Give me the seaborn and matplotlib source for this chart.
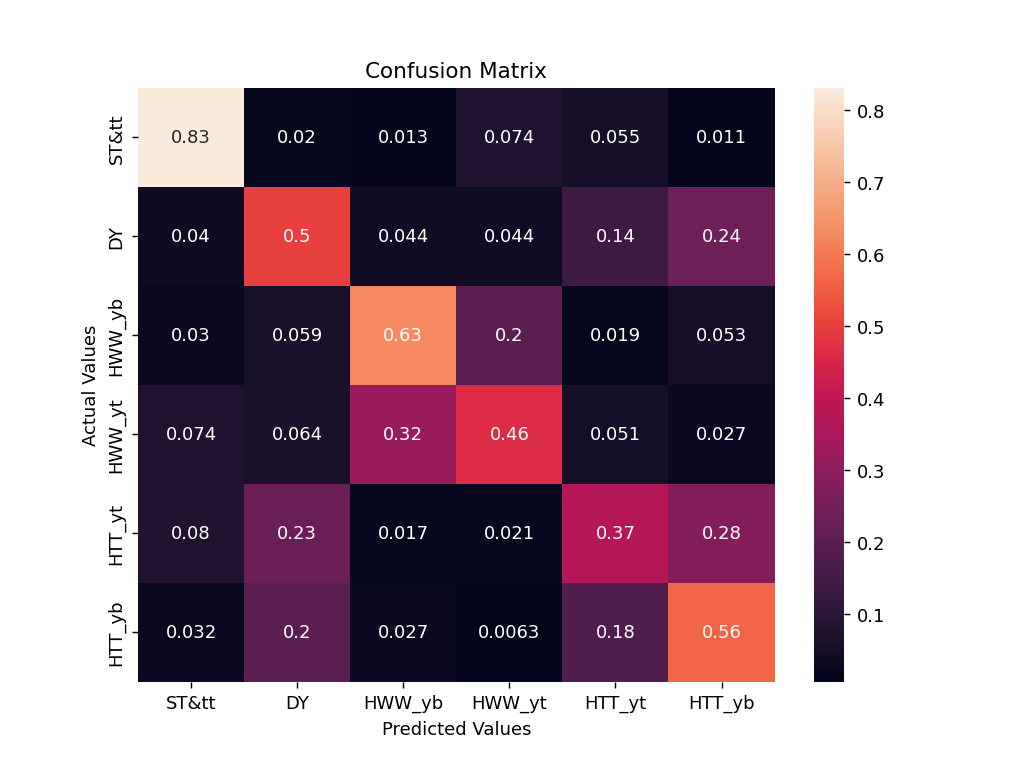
import numpy as np
import pandas as pd
import matplotlib
matplotlib.use("Agg")
import matplotlib.pyplot as plt
import seaborn as sns

labels = ["ST&tt", "DY", "HWW_yb", "HWW_yt", "HTT_yt", "HTT_yb"]
row_sttt = [0.83, 0.02, 0.013, 0.074, 0.055, 0.011]
row_dy = [0.04, 0.5, 0.044, 0.044, 0.14, 0.24]
row_hww_yb = [0.03, 0.059, 0.63, 0.2, 0.019, 0.053]
row_hww_yt = [0.074, 0.064, 0.32, 0.46, 0.051, 0.027]
row_htt_yt = [0.08, 0.23, 0.017, 0.021, 0.37, 0.28]
row_htt_yb = [0.032, 0.2, 0.027, 0.0063, 0.18, 0.56]

cm = pd.DataFrame([row_sttt, row_dy, row_hww_yb, row_hww_yt, row_htt_yt, row_htt_yb],
                  index=labels, columns=labels)

fig = plt.figure(figsize=(8, 5.934))
fig.subplots_adjust(left=0.1335, right=0.903, top=0.884, bottom=0.11)
ax = sns.heatmap(cm, annot=True)
ax.set_title("Confusion Matrix")
ax.set_xlabel("Predicted Values")
ax.set_ylabel("Actual Values")
plt.savefig("out.png", dpi=129.25)
